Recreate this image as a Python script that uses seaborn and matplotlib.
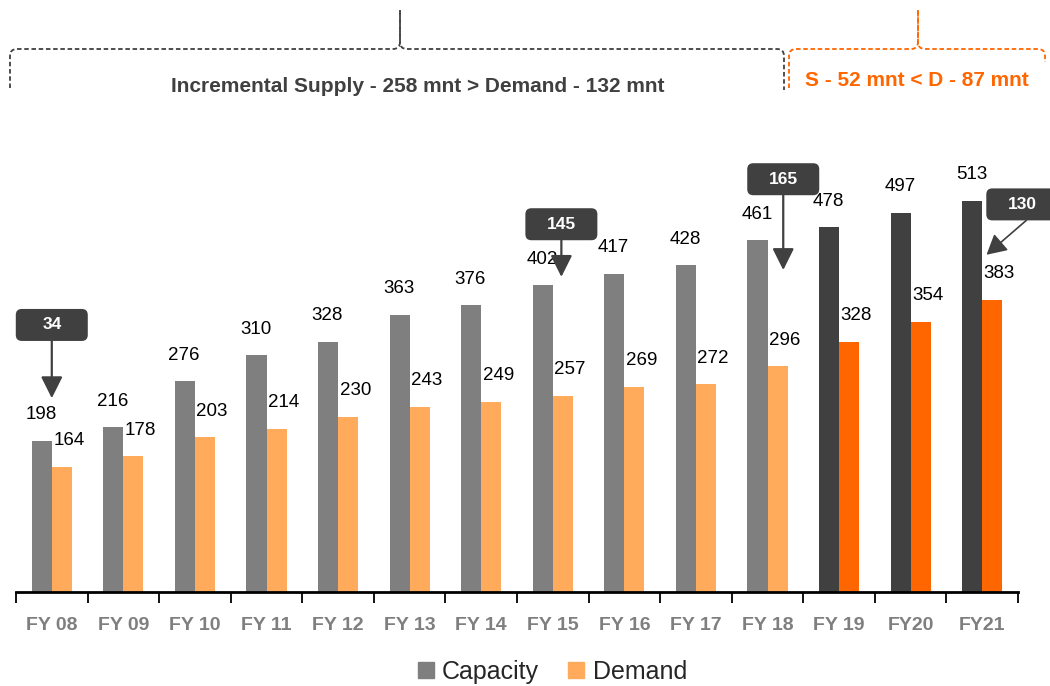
import numpy as np
import pandas as pd
import matplotlib
matplotlib.use("Agg")
import matplotlib.pyplot as plt
from matplotlib.patches import FancyBboxPatch, PathPatch
from matplotlib.path import Path
from matplotlib.lines import Line2D
import seaborn as sns

# data (mn tonnes)
years = ["FY 08", "FY 09", "FY 10", "FY 11", "FY 12", "FY 13", "FY 14",
         "FY 15", "FY 16", "FY 17", "FY 18", "FY 19", "FY20", "FY21"]
capacity = [198, 216, 276, 310, 328, 363, 376, 402, 417, 428, 461, 478, 497, 513]
demand = [164, 178, 203, 214, 230, 243, 249, 257, 269, 272, 296, 328, 354, 383]
n_forecast = 3  # last three years drawn darker

gap_years = ["FY 08", "FY 15", "FY 18", "FY21"]

GRAY = "#7f7f7f"
LIGHT_ORANGE = "#ffab5b"
DARK = "#404040"
ORANGE = "#ff6600"

df = pd.DataFrame({
    "year": years * 2,
    "value": capacity + demand,
    "series": ["Capacity"] * len(years) + ["Demand"] * len(years),
})

sns.set_style("white")
plt.rcParams["font.family"] = ["Liberation Sans", "DejaVu Sans"]

W, H = 1050, 686
fig = plt.figure(figsize=(W / 100, H / 100), dpi=100)
fig.patch.set_facecolor("white")

# main axes placed in pixel terms: x 16..1018, baseline at y=592 (from top)
top_px = 110
ax = fig.add_axes([16 / W, (H - 592) / H, (1018 - 16) / W, (592 - top_px) / H])
sns.barplot(data=df, x="year", y="value", hue="series",
            palette=[GRAY, LIGHT_ORANGE], width=0.56, saturation=1,
            linewidth=0, legend=False, ax=ax)

for bar in ax.containers[0].patches[-n_forecast:]:
    bar.set_facecolor(DARK)
for bar in ax.containers[1].patches[-n_forecast:]:
    bar.set_facecolor(ORANGE)

ax.set_xlim(-0.5, len(years) - 0.5)
ax.set_ylim(0, (592 - top_px) / 0.763)
ax.set_xlabel("")
ax.set_ylabel("")
ax.set_yticks([])
for s in ["left", "right", "top"]:
    ax.spines[s].set_visible(False)
ax.spines["bottom"].set_color("black")
ax.spines["bottom"].set_linewidth(2)
ax.set_facecolor("none")

ax.set_xticks(range(len(years)))
ax.set_xticks(np.arange(-0.5, len(years)), minor=True)
ax.tick_params(axis="x", which="major", length=0, pad=18)
ax.tick_params(axis="x", which="minor", bottom=True, length=8, width=1.3,
               color="black", direction="out")
ax.set_xticklabels(years, fontsize=14, fontweight="bold", color=GRAY)

# value labels
for i in range(len(years)):
    ax.text(i - 0.15, capacity[i] + 23, str(capacity[i]), ha="center",
            va="bottom", fontsize=13.5, color="black")
    ax.text(i + 0.24, demand[i] + 23, str(demand[i]), ha="center",
            va="bottom", fontsize=13.5, color="black")

# overlay in figure pixels for callouts and braces
ov = fig.add_axes([0, 0, 1, 1], zorder=5)
ov.set_xlim(0, W)
ov.set_ylim(0, H)
ov.axis("off")
ov.patch.set_alpha(0)

def to_px(x, y):
    return ax.transData.transform((x, y))

# callouts: (box centre offset in x, box centre value, arrow tip x offset, tip value)
callouts = [(0.0, 350, 0.0, 254), (0.12, 482, 0.12, 413),
            (0.22, 541, 0.22, 422), (0.56, 508, 0.06, 442)]
for yr, (bx, by, tx, ty) in zip(gap_years, callouts):
    i = years.index(yr)
    gap = capacity[i] - demand[i]
    cx, cy = to_px(i + bx, by)
    px, py = to_px(i + tx, ty)
    ov.add_patch(FancyBboxPatch((cx - 36, cy - 16), 72, 32,
                                boxstyle="round,pad=0,rounding_size=6",
                                fc=DARK, ec="none", zorder=6))
    ov.text(cx, cy, str(gap), ha="center", va="center", color="white",
            fontsize=12.5, fontweight="bold", zorder=7)
    if i == len(years) - 1:
        start = (cx + 4, cy - 16)
        style = "-|>,head_length=0.55,head_width=0.3"
        lw = 1.2
    else:
        start = (px, cy - 16)
        style = "-|>,head_length=0.6,head_width=0.3"
        lw = 1.6
    ov.annotate("", xy=(px, py), xytext=start,
                arrowprops=dict(arrowstyle=style, color=DARK, lw=lw,
                                mutation_scale=22, shrinkA=0, shrinkB=0),
                zorder=6)

def brace(x0, xm, x1, y_end0, y_end1, color):
    # coordinates from the top of the image, flipped here
    yh, yp, r = 49, 10, 7
    f = lambda y: H - y
    left = [(x0, f(y_end0)), (x0, f(yh + r)), (x0, f(yh)), (x0 + r, f(yh)),
            (xm - r, f(yh)), (xm, f(yh)), (xm, f(yh - r)), (xm, f(yp))]
    right = [(xm, f(yp)), (xm, f(yh - r)), (xm, f(yh)), (xm + r, f(yh)),
             (x1 - r, f(yh)), (x1, f(yh)), (x1, f(yh + r)), (x1, f(y_end1))]
    codes = [Path.MOVETO, Path.LINETO, Path.CURVE3, Path.CURVE3,
             Path.LINETO, Path.CURVE3, Path.CURVE3, Path.LINETO]
    for pts in (left, right):
        ov.add_patch(PathPatch(Path(pts, codes), fc="none", ec=color,
                               lw=1.3, ls=(0, (2.5, 1.5))))

brace(10, 400, 784, 88, 90, DARK)
brace(789, 918, 1045, 88, 62, ORANGE)

ov.text(418, H - 87, "Incremental Supply - 258 mnt > Demand - 132 mnt",
        ha="center", va="center", fontsize=15, fontweight="bold",
        color=DARK)
ov.text(917, H - 80, "S - 52 mnt < D - 87 mnt", ha="center", va="center",
        fontsize=15, fontweight="bold", color=ORANGE)

# legend
handles = [Line2D([], [], marker="s", ls="", color=GRAY, markersize=12),
           Line2D([], [], marker="s", ls="", color=LIGHT_ORANGE, markersize=12)]
leg = fig.legend(handles, ["Capacity", "Demand"], loc="center",
                 bbox_to_anchor=(550 / W, (H - 672) / H), ncol=2, frameon=False,
                 handletextpad=0.15, columnspacing=1.0, handlelength=1.0,
                 prop={"size": 18})

fig.savefig("out.png", dpi=100)
